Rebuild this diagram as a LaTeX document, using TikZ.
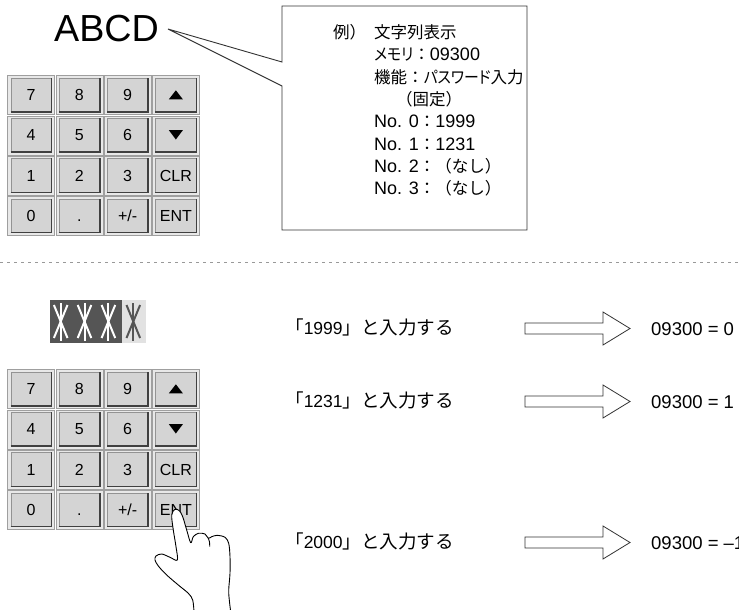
\documentclass[tikz,border=0pt]{standalone}
\usepackage{fontspec}
\setmainfont{Liberation Sans}
\newfontfamily\jp[Scale=0.917]{Noto Sans CJK JP}
\newfontfamily\jpk[Scale=0.917, RawFeature=+palt, FakeStretch=0.9]{Noto Sans CJK JP}
\newfontfamily\jpr[Scale=1.06]{Noto Sans CJK JP}

\definecolor{keyface}{HTML}{D4D4D4}
\definecolor{keyrim}{HTML}{E8E8E8}
\definecolor{keydark}{HTML}{404040}
\definecolor{dispdark}{HTML}{555555}
\definecolor{displight}{HTML}{E2E2E2}

\tikzset{
  keycell/.style={draw=gray!75, fill=keyrim, minimum width=47pt, minimum height=39pt, inner sep=0pt},
  keytop/.style={draw=gray!85, fill=keyface, minimum width=40.5pt, minimum height=33.5pt, inner sep=0pt,
    font=\fontsize{16}{16}\selectfont, text height=11.5pt, text depth=0pt},
  keyshade/.style={draw=keydark, line width=1.6pt},
  calltxt/.style={anchor=base west, inner sep=0pt, font=\fontsize{18}{22}\selectfont},
  rowtxt/.style={anchor=base west, inner sep=0pt, font=\fontsize{17.5}{20}\selectfont},
  restxt/.style={anchor=base west, inner sep=0pt, font=\fontsize{18.5}{22}\selectfont},
  barrow/.style={draw=black!80, fill=white, line width=0.8pt, line join=miter},
  hand/.style={draw=black, fill=white, line width=0.9pt, line join=round},
}

% 4x4 keypad, top left corner at (#1,#2), nodes named #3k0 ... #3k15
\newcommand{\keypad}[3]{
  \foreach \lab [count=\n from 0] in {7,8,9,{},4,5,6,{},1,2,3,CLR,0,.,+/-,ENT} {
    \pgfmathtruncatemacro\c{mod(\n,4)}
    \pgfmathtruncatemacro\r{\n/4}
    \node[keycell] (#3c\n) at ({#1+48.25*\c+24.1},{#2+40.2*\r+20}) {};
    \node[keytop] (#3k\n) at (#3c\n) {\lab};
    \draw[keyshade] (#3k\n.south west) -- (#3k\n.south east) -- (#3k\n.north east);
  }
  \fill ([shift={(-7pt,-4.3pt)}]#3k3.center) -- ([shift={(7pt,-4.3pt)}]#3k3.center)
    -- ([shift={(0pt,4.7pt)}]#3k3.center) -- cycle;
  \fill ([shift={(-7pt,5pt)}]#3k7.center) -- ([shift={(7pt,5pt)}]#3k7.center)
    -- ([shift={(0pt,-4.3pt)}]#3k7.center) -- cycle;
}

\begin{document}
\begin{tikzpicture}[x=1pt, y=-1pt]
\useasboundingbox (0,0) rectangle (739,610);
\clip (0,0) rectangle (739,610);

% display and callout
\node[anchor=base west, inner sep=0pt, font=\fontsize{37.7}{40}\selectfont] (abcd) at (54,42) {ABCD};
\draw[draw=black!80, fill=white, line width=0.9pt]
  (282,62) -- (282,6) -- (527,6) -- (527,230) -- (282,230) -- (282,86) -- (168,29) -- cycle;
\node[calltxt] (ex) at (333,38.6) {\jp 例）};
\node[calltxt] (l1) at (374,38.6) {\jp 文字列表示};
\node[calltxt] (l2) at (374,60.9) {{\jpk メモリ}{\jp ：}09300};
\node[calltxt] (l3) at (374,83.2) {{\jp 機能：}{\jpk パスワード}{\jp 入力}};
\node[calltxt] (l4) at (396,105.5) {\jp （固定）};
\node[calltxt] (l5) at (374,127.8) {No. 0{\jp ：}1999};
\node[calltxt] (l6) at (374,150.1) {No. 1{\jp ：}1231};
\node[calltxt] (l7) at (374,172.4) {No. 2{\jp ：（なし）}};
\node[calltxt] (l8) at (374,194.7) {No. 3{\jp ：（なし）}};

\keypad{7}{75}{a}

\draw[gray!80, line width=0.8pt, dash pattern=on 2.5pt off 4.5pt] (0,262) -- (739,262);

% password display
\fill[dispdark] (50,300) rectangle (122.3,343);
\fill[displight] (122.3,300) rectangle (145.5,343);
\foreach \cx/\col in {60.7/white, 84.5/white, 108.4/white, 133.3/dispdark} {
  \draw[\col, line width=2pt] (\cx,303) -- (\cx,341);
  \draw[\col, line width=2pt] (\cx-6.8,305) -- (\cx+6.8,338);
  \draw[\col, line width=2pt] (\cx+6.8,305) -- (\cx-6.8,338);
}

\keypad{7}{369}{b}

% inputs and results
\foreach \y/\num/\res [count=\i] in {328.5/1999/0, 401.5/1231/1, 542.5/2000/{–1}} {
  \node[rowtxt] (in\i) at (285,\y+6.3) {{\jpr 「}\num{\jpr 」と入力する}};
  \draw[barrow] (525,\y-5.5) -- (603,\y-5.5) -- (603,\y-16.5) -- (630,\y)
    -- (603,\y+16.5) -- (603,\y+5.5) -- (525,\y+5.5) -- cycle;
  \node[restxt] (out\i) at (651,\y+6.6) {09300 = \res};
}

% hand pressing ENT
\draw[hand] plot[smooth, tension=0.55] coordinates {
  (194,612) (192.7,600) (188.3,593.3) (178.3,585) (166.7,575) (158.3,566) (155,560)
  (156,556) (161.7,554) (170,557.3) (177.3,560) (176,546.7) (173.3,530) (171.7,515)
  (175,509.3) (179.3,510.7) (182.7,516.7) (186.7,530) (190.7,542.7)
  (193.3,536.7) (198.3,533.3) (205,534) (208.3,538.3)
  (211.7,536.7) (217.3,535.3) (225,537.3) (228.7,543.3) (230,556.7) (230,573.3)
  (228.7,590) (229.3,600) (230.7,612)};
\draw[hand, fill=none] (208.3,538.3) .. controls (209.5,541) .. (209.8,546.5);
\end{tikzpicture}
\end{document}
